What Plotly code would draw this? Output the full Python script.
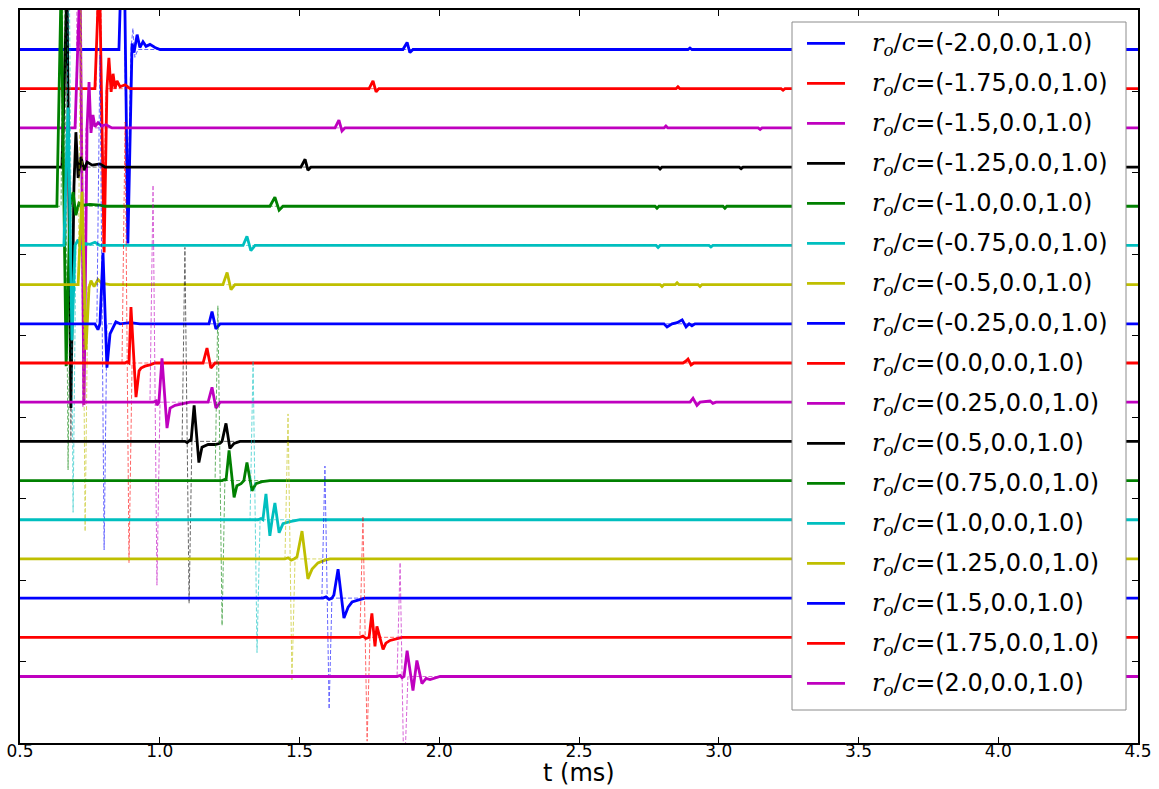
import plotly.graph_objects as go

# source positions (legend) and line colours
R_O = ["-2.0", "-1.75", "-1.5", "-1.25", "-1.0", "-0.75", "-0.5", "-0.25", "0.0",
       "0.25", "0.5", "0.75", "1.0", "1.25", "1.5", "1.75", "2.0"]
COLORS = ["#0000ff", "#ff0000", "#bf00bf", "#000000", "#008000", "#00bfbf", "#bfbf00",
          "#0000ff", "#ff0000", "#bf00bf", "#000000", "#008000", "#00bfbf", "#bfbf00",
          "#0000ff", "#ff0000", "#bf00bf"]
OFFSETS = [16, 15, 14, 13, 12, 11, 10, 9, 8, 7, 6, 5, 4, 3, 2, 1, 0]
T_START, T_END = 0.5, 4.5

# ---- solid traces: key points (t in ms, amplitude) ----
T0 = [0.854, 0.870, 0.886, 0.901, 0.908, 0.919, 0.929, 0.940, 0.951, 0.965, 0.983, 1.001, 1.870, 1.885, 1.895, 1.906, 2.890, 2.897, 2.904]
A0 = [0, 4.08, -4.95, 0.15, -0.08, 0.38, 0.05, 0.20, 0.08, 0.13, 0.05, 0, 0, 0.18, -0.08, 0, 0, 0.04, 0]
T1 = [0.768, 0.784, 0.801, 0.811, 0.818, 0.826, 0.833, 0.840, 0.847, 0.858, 0.876, 0.894, 1.749, 1.763, 1.774, 1.784, 2.847, 2.854, 2.861, 3.223, 3.230, 3.237]
A1 = [0, 3.06, -4.18, 0, 0.79, -0.08, 0.38, 0, 0.20, 0.05, 0.10, 0, 0, 0.20, -0.08, 0, 0, 0.05, 0, 0, -0.04, 0]
T2 = [0.697, 0.715, 0.729, 0.740, 0.747, 0.754, 0.761, 0.768, 0.779, 0.793, 0.808, 0.829, 1.627, 1.641, 1.652, 1.663, 2.804, 2.811, 2.818, 3.141, 3.148, 3.155]
A2 = [0, 3.83, -7.07, 0, 1.17, -0.13, 0.33, 0.03, 0.13, 0.05, 0.08, 0, 0, 0.20, -0.08, 0, 0, 0.05, 0, 0, -0.04, 0]
T3 = [0.650, 0.668, 0.682, 0.693, 0.700, 0.708, 0.718, 0.729, 0.740, 0.758, 0.786, 0.804, 1.505, 1.520, 1.530, 1.541, 2.783, 2.790, 2.797, 3.073, 3.080, 3.087]
A3 = [0, 4.59, -6.15, -0.51, 0.89, -0.28, 0.26, -0.08, 0.13, 0.05, 0.08, 0, 0, 0.20, -0.08, 0, 0, -0.05, 0, 0, -0.04, 0]
T4 = [0.632, 0.647, 0.665, 0.679, 0.690, 0.700, 0.711, 0.725, 0.750, 0.786, 0.804, 1.394, 1.412, 1.427, 1.441, 2.772, 2.779, 2.786, 3.015, 3.022, 3.029]
A4 = [0, 5.61, -4.08, 0, 0.36, -0.23, 0.08, 0.03, 0.05, 0.03, 0, 0, 0.23, -0.10, 0, 0, -0.05, 0, 0, -0.05, 0]
T5 = [0.657, 0.672, 0.686, 0.697, 0.708, 0.718, 0.733, 0.750, 0.768, 0.786, 1.298, 1.312, 1.326, 1.341, 2.776, 2.783, 2.790, 2.965, 2.972, 2.979]
A5 = [0, 3.52, -2.42, 0, 0.15, -0.10, 0.05, 0.03, 0.08, 0, 0, 0.23, -0.13, 0, 0, -0.05, 0, 0, -0.04, 0]
T6 = [0.708, 0.722, 0.736, 0.747, 0.754, 0.765, 0.779, 0.793, 0.822, 1.226, 1.241, 1.255, 1.269, 2.790, 2.797, 2.804, 2.844, 2.851, 2.858, 2.926, 2.933, 2.940]
A6 = [0, 2.37, -1.66, -0.08, 0.10, -0.05, 0.13, 0.03, 0, 0, 0.31, -0.13, 0, 0, -0.05, 0, 0, 0.05, 0, 0, -0.05, 0]
T7 = [0.768, 0.779, 0.786, 0.797, 0.811, 0.822, 0.833, 0.843, 0.858, 0.894, 0.929, 1.176, 1.187, 1.201, 1.216, 2.804, 2.815, 2.833, 2.851, 2.869, 2.883, 2.894, 2.904, 2.915]
A7 = [0, -0.15, 0, 1.81, -1.12, -0.26, -0.08, 0.05, 0, 0.03, 0, 0, 0.31, -0.13, 0, 0, -0.08, 0, 0.03, 0.10, -0.08, 0, -0.05, 0]
T8 = [0.876, 0.883, 0.890, 0.897, 0.915, 0.926, 0.933, 0.947, 0.965, 0.983, 1.155, 1.169, 1.183, 1.198, 2.872, 2.883, 2.890, 2.901, 2.911]
A8 = [0, 0.03, 0, 1.43, -0.87, -0.20, -0.13, -0.08, -0.05, 0, 0, 0.38, -0.13, 0, 0, 0.05, 0.10, -0.05, 0]
T9 = [0.976, 0.987, 0.990, 0.997, 1.008, 1.026, 1.037, 1.055, 1.072, 1.108, 1.173, 1.187, 1.201, 1.216, 2.897, 2.908, 2.922, 2.933, 2.969, 2.979, 2.990]
A9 = [0, 0.03, -0.08, 0, 1.12, -0.66, -0.15, -0.08, -0.05, 0, 0, 0.38, -0.15, 0, 0, 0.10, -0.08, 0, 0.03, -0.03, 0]
T10 = [1.090, 1.098, 1.108, 1.112, 1.123, 1.140, 1.151, 1.173, 1.198, 1.216, 1.223, 1.237, 1.251, 1.266, 1.287]
A10 = [0, -0.03, 0.03, 0, 0.92, -0.54, -0.15, -0.08, -0.08, -0.05, 0, 0.46, -0.18, -0.05, 0]
T11 = [1.223, 1.233, 1.237, 1.248, 1.266, 1.276, 1.291, 1.301, 1.312, 1.330, 1.344, 1.366, 1.394]
A11 = [0, 0.03, 0, 0.77, -0.43, -0.13, -0.08, 0, 0.46, -0.26, -0.08, -0.03, 0]
T12 = [1.352, 1.362, 1.369, 1.380, 1.394, 1.402, 1.412, 1.427, 1.441, 1.466, 1.502]
A12 = [0, 0.03, 0, 0.66, -0.41, 0, 0.43, -0.33, -0.10, -0.05, 0]
T13 = [1.448, 1.459, 1.470, 1.480, 1.491, 1.509, 1.530, 1.545, 1.566, 1.591, 1.609]
A13 = [0, 0.03, -0.03, 0, 0.05, 0.71, -0.51, -0.26, -0.10, -0.03, 0]
T14 = [1.584, 1.595, 1.606, 1.616, 1.623, 1.638, 1.659, 1.674, 1.688, 1.709, 1.734]
A14 = [0, 0.03, -0.03, 0, 0.08, 0.74, -0.51, -0.23, -0.10, -0.05, 0]
T15 = [1.716, 1.727, 1.738, 1.749, 1.759, 1.770, 1.777, 1.799, 1.809, 1.824, 1.842, 1.867]
A15 = [0, 0.03, -0.03, 0, 0.61, -0.23, 0.28, -0.31, -0.15, -0.08, -0.05, 0]
T16 = [1.849, 1.860, 1.867, 1.874, 1.885, 1.906, 1.920, 1.938, 1.953, 1.967, 1.985, 2.003]
A16 = [0, 0.03, -0.03, 0, 0.66, -0.36, 0.41, -0.18, -0.05, -0.08, -0.03, 0]

# ---- dashed reference traces: key points (t in ms, amplitude) ----
DT0 = [0.854, 0.869, 0.883, 0.897, 0.904, 0.911, 0.922]
DA0 = [0, 4.08, -4.85, 0, 0.54, -0.20, 0]
DT1 = [0.772, 0.783, 0.797, 0.808]
DA1 = [0, 7.65, -4.08, 0]
DT2 = [0.700, 0.711, 0.725, 0.736]
DA2 = [0, 9.18, -7.14, 0]
DT3 = [0.657, 0.668, 0.682, 0.693]
DA3 = [0, 8.93, -6.96, 0]
DT4 = [0.647, 0.657, 0.672, 0.682]
DA4 = [0, 8.67, -6.73, 0]
DT5 = [0.665, 0.675, 0.690, 0.700]
DA5 = [0, 8.42, -6.81, 0]
DT6 = [0.708, 0.718, 0.733, 0.743]
DA6 = [0, 7.65, -6.30, 0]
DT7 = [0.775, 0.786, 0.801, 0.811]
DA7 = [0, 6.86, -5.77, 0]
DT8 = [0.865, 0.876, 0.890, 0.901]
DA8 = [0, 6.15, -5.10, 0]
DT9 = [0.965, 0.976, 0.990, 1.001]
DA9 = [0, 5.54, -4.67, 0]
DT10 = [1.080, 1.090, 1.105, 1.115]
DA10 = [0, 4.95, -4.13, 0]
DT11 = [1.198, 1.208, 1.223, 1.233]
DA11 = [0, 4.46, -3.70, 0]
DT12 = [1.323, 1.334, 1.348, 1.359]
DA12 = [0, 4.06, -3.39, 0]
DT13 = [1.448, 1.459, 1.473, 1.484]
DA13 = [0, 3.70, -3.11, 0]
DT14 = [1.580, 1.591, 1.606, 1.616]
DA14 = [0, 3.37, -2.83, 0]
DT15 = [1.716, 1.727, 1.742, 1.752]
DA15 = [0, 3.09, -2.65, 0]
DT16 = [1.849, 1.860, 1.874, 1.888]
DA16 = [0, 2.91, -2.81, 0]

X_TICKS = [0.5, 1.0, 1.5, 2.0, 2.5, 3.0, 3.5, 4.0, 4.5]
Y_RANGE = [-1.697, 17.008]

SOLID_T = [T0, T1, T2, T3, T4, T5, T6, T7, T8, T9, T10, T11, T12, T13, T14, T15, T16]
SOLID_A = [A0, A1, A2, A3, A4, A5, A6, A7, A8, A9, A10, A11, A12, A13, A14, A15, A16]
DASH_T = [DT0, DT1, DT2, DT3, DT4, DT5, DT6, DT7, DT8, DT9, DT10, DT11, DT12, DT13, DT14, DT15, DT16]
DASH_A = [DA0, DA1, DA2, DA3, DA4, DA5, DA6, DA7, DA8, DA9, DA10, DA11, DA12, DA13, DA14, DA15, DA16]

W, H = 1159, 789
ML, MR, MT, MB = 20, 21, 10, 46
PW, PH = W - ML - MR, H - MT - MB


def px_x(p):
    return (p - ML) / PW


def px_y(p):
    return (H - MB - p) / PH


def label(r):
    return ('<span style="font-family:DejaVu Serif"><i>r</i><sub><i>o</i></sub>/<i>c</i>=</span>'
            f'({r},0.0,1.0)')


fig = go.Figure()
for k in range(len(R_O)):
    off = OFFSETS[k]
    xs = [T_START] + SOLID_T[k] + [T_END]
    ys = [off] + [off + a for a in SOLID_A[k]] + [off]
    fig.add_trace(go.Scatter(x=xs, y=ys, mode="lines", name=label(R_O[k]), showlegend=False,
                             line=dict(color=COLORS[k], width=2.8)))
    dxs = [T_START] + DASH_T[k] + [T_END]
    dys = [off] + [off + a for a in DASH_A[k]] + [off]
    fig.add_trace(go.Scatter(x=dxs, y=dys, mode="lines", showlegend=False,
                             opacity=0.6, line=dict(color=COLORS[k], width=1, dash="4px,2px")))

# legend box (drawn by hand to match the reference's proportions)
shapes = [dict(type="rect", xref="paper", yref="paper", layer="above",
               x0=px_x(792), x1=px_x(1126), y0=px_y(710), y1=px_y(22),
               fillcolor="white", line=dict(color="#8c8c8c", width=1))]
annotations = []
for i in range(len(R_O)):
    yc = 43.3 + 40.0 * i
    shapes.append(dict(type="line", xref="paper", yref="paper", layer="above",
                       x0=px_x(807), x1=px_x(845), y0=px_y(yc), y1=px_y(yc),
                       line=dict(color=COLORS[i], width=2.8)))
    annotations.append(dict(xref="paper", yref="paper", x=px_x(870), y=px_y(yc + 1),
                            xanchor="left", yanchor="middle", showarrow=False,
                            text=label(R_O[i]),
                            font=dict(size=24, family="DejaVu Sans", color="black")))

# x-axis title placed under the tick labels
annotations.append(dict(xref="paper", yref="paper", x=px_x(579), y=px_y(773),
                        xanchor="center", yanchor="middle", showarrow=False,
                        text="t (ms)", font=dict(size=24, family="DejaVu Sans", color="black")))

fig.update_layout(
    width=W, height=H,
    margin=dict(l=ML, r=MR, t=MT, b=MB),
    paper_bgcolor="white", plot_bgcolor="white",
    font=dict(family="DejaVu Sans", color="black", size=17),
    showlegend=False,
    shapes=shapes, annotations=annotations,
)
fig.update_xaxes(range=[T_START, T_END], tickvals=X_TICKS, ticktext=[f"{v:.1f}" for v in X_TICKS],
                 ticks="inside", ticklen=6, tickcolor="black", showline=True, linecolor="black",
                 linewidth=2, mirror="ticks", showgrid=False, zeroline=False, automargin=False,
                 ticklabelstandoff=-8, tickfont=dict(size=17))
fig.update_yaxes(range=Y_RANGE, tick0=Y_RANGE[0], dtick=(Y_RANGE[1] - Y_RANGE[0]) / 9,
                 ticks="inside", ticklen=6, tickcolor="black", showline=True, linecolor="black",
                 linewidth=2, mirror="ticks", showgrid=False, zeroline=False, showticklabels=False,
                 automargin=False)

fig.write_html("out.html")
